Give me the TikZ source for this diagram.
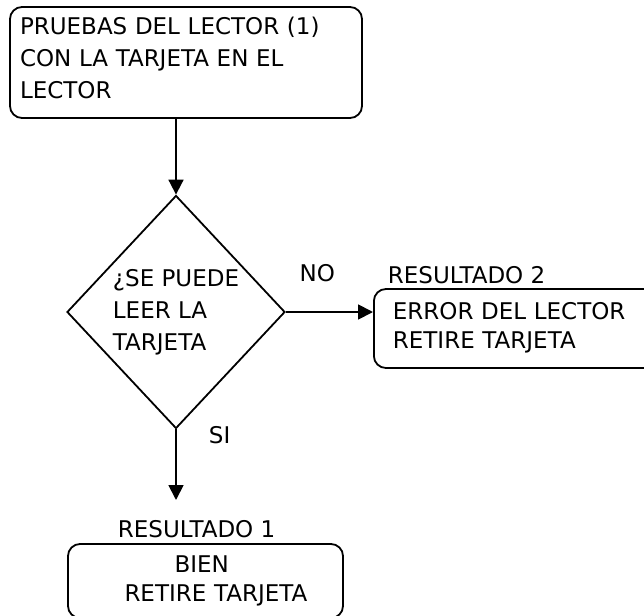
\documentclass[tikz,border=0pt]{standalone}
\usepackage{fontspec}
\setmainfont{DejaVu Sans}
\usetikzlibrary{arrows.meta,positioning,shapes.geometric}

\begin{document}
\begin{tikzpicture}[x=1pt, y=-1pt, line width=1.8pt,
  >={Triangle[length=15pt,width=15pt]},
  font=\fontsize{23}{32}\selectfont,
  caja/.style={draw, rounded corners=12pt, align=left, inner ysep=0pt},
  res/.style={caja, font=\fontsize{23}{29}\selectfont},
  cond/.style={draw, diamond, minimum width=218pt, minimum height=233pt,
    inner sep=0pt, align=left}]
  \path[use as bounding box, clip] (0,0) rectangle (644,615);
  \node[caja, minimum width=352pt, minimum height=111pt, text width=332pt,
    inner xsep=10pt] (prueba) at (186,62.5)
    {PRUEBAS DEL LECTOR (1)\\CON LA TARJETA EN EL\\LECTOR\rule[-10pt]{0pt}{10pt}};
  \node[cond] (lee) at (176,312) {¿SE PUEDE\\LEER LA\\TARJETA};
  \node[res, anchor=west, minimum height=79pt, text width=300pt,
    inner xsep=19pt] (res2) at (373,328.5)
    {ERROR DEL LECTOR\\RETIRE TARJETA\rule[-6pt]{0pt}{6pt}};
  \node[res, minimum width=275pt, minimum height=74pt, text width=250pt,
    inner xsep=12.5pt] (res1) at (205.5,581)
    {\hspace*{94pt}BIEN\\\hspace*{44pt}RETIRE TARJETA};
  \node[anchor=base west, inner sep=0pt] (r2lab) at (387,283) {RESULTADO 2};
  \node[anchor=base west, inner sep=0pt] (r1lab) at (117,537) {RESULTADO 1};
  \node[anchor=base west, inner sep=0pt] (si) at (208,443) {SI};
  \coordinate (fin1) at (176,500);
  \draw[->] (prueba.south -| lee.north) -- (lee.north);
  \draw[->] (lee.east) -- node[pos=.36, above=26pt] {NO} (lee.east -| res2.west);
  \draw[->] (lee.south) -- (fin1);
\end{tikzpicture}
\end{document}
